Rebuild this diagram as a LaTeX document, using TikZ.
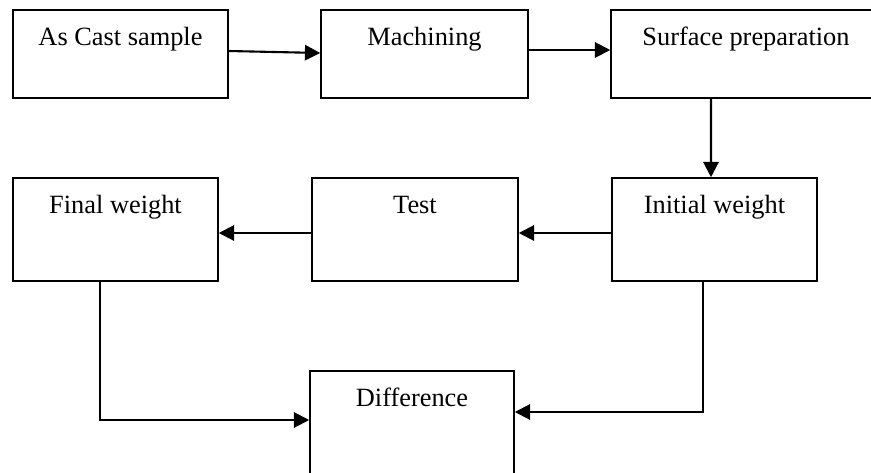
\documentclass[tikz,border=0pt]{standalone}
\usepackage{fontspec}
\setmainfont{Liberation Serif}
\usetikzlibrary{arrows.meta}

\begin{document}
\begin{tikzpicture}[x=0.03cm,y=-0.03cm]
\tikzset{
  stagebox/.style={rectangle,draw,line width=1.3pt,inner sep=0pt,text height=1.05cm,
    font=\fontsize{22.5}{27}\selectfont},
  toprow/.style={stagebox,minimum height=2.64cm,text depth=1.59cm},
  lowrow/.style={stagebox,minimum height=3.09cm,text depth=2.04cm},
  directed/.style={-{Triangle[length=0.46cm,width=0.46cm]},line width=1.8pt}
}
\useasboundingbox (0,0) rectangle (871,472);
\clip (0,0) rectangle (871,472);
\node[toprow,minimum width=6.45cm] (n_cast) at (120.5,54) {As Cast sample};
\node[toprow,minimum width=6.21cm] (n_mach) at (424.5,54) {Machining};
\node[toprow,minimum width=8.10cm] (n_surf) at (746,54) {Surface preparation};
\node[lowrow,minimum width=6.15cm] (n_final) at (115.5,229.5) {Final weight};
\node[lowrow,minimum width=6.18cm] (n_test) at (415,229.5) {Test};
\node[lowrow,minimum width=6.15cm] (n_init) at (714.5,229.5) {Initial weight};
\node[lowrow,minimum width=6.12cm] (n_diff) at (412,422.5) {Difference};
\draw[directed] ([yshift=0.09cm]n_cast.east) -- ([yshift=0.03cm]n_mach.west);
\draw[directed] ([yshift=0.12cm]n_mach.east) -- ([yshift=0.12cm]n_surf.west);
\draw[directed] ([xshift=-1.05cm]n_surf.south) -- ([xshift=-0.105cm]n_init.north);
\draw[directed] ([yshift=-0.105cm]n_init.west) -- ([yshift=-0.105cm]n_test.east);
\draw[directed] ([yshift=-0.105cm]n_test.west) -- ([yshift=-0.105cm]n_final.east);
\draw[directed] ([xshift=-0.465cm]n_final.south) |- ([yshift=0.075cm]n_diff.west);
\draw[directed] ([xshift=-0.345cm]n_init.south) |- ([yshift=0.315cm]n_diff.east);
\end{tikzpicture}
\end{document}
